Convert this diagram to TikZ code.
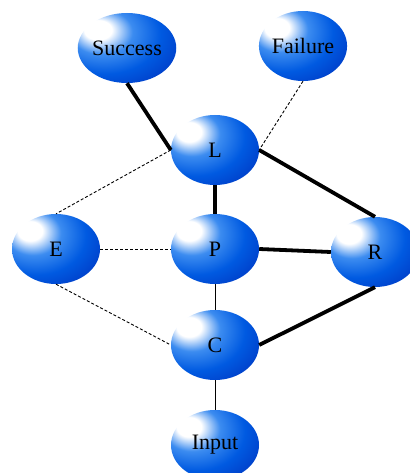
\documentclass[tikz,border=0pt]{standalone}
\usepackage{fontspec}
\setmainfont{Liberation Serif}
\usetikzlibrary{shapes.geometric}
\definecolor{ballmid}{RGB}{60,140,240}
\definecolor{ballblue}{RGB}{0,90,225}
\definecolor{balldeep}{RGB}{0,50,190}
\definecolor{balldark}{RGB}{0,15,135}
\pgfdeclareradialshading{blueball}{\pgfpoint{-16bp}{14bp}}{%
 color(0bp)=(white); color(7bp)=(white); color(16bp)=(ballmid);
 color(28bp)=(ballblue); color(44bp)=(balldeep); color(62bp)=(balldark);
 color(90bp)=(balldark)}
\tikzset{
  ball/.style={ellipse, shading=blueball, draw=none, minimum width=88pt,
    minimum height=70pt, inner sep=0pt, font=\fontsize{22}{26}\selectfont},
  heavy/.style={line width=3.8pt},
  light/.style={line width=0.9pt},
  dashline/.style={line width=0.9pt, dash pattern=on 3pt off 2pt}
}
\begin{document}
\begin{tikzpicture}[x=1pt,y=-1pt]
\useasboundingbox (0,0) rectangle (409,473);
\node[ball] (S) at (127,48) {Success};
\node[ball] (F) at (303,46) {Failure};
\node[ball] (L) at (215,150) {L};
\node[ball] (E) at (56,249) {E};
\node[ball] (P) at (215,249) {P};
\node[ball] (R) at (375,252) {R};
\node[ball] (C) at (215,345) {C};
\node[ball] (I) at (215,445) {Input};
\draw[heavy] (S.south) -- (L.west);
\draw[dashline] (F.south) -- (L.east);
\draw[dashline] (L.west) -- (E.north);
\draw[heavy] (L.south) -- (P.north);
\draw[heavy] (L.east) -- (R.north);
\draw[dashline] (E.east) -- (P.west);
\draw[heavy] (P.east) -- (R.west);
\draw[light] (P.south) -- (C.north);
\draw[dashline] (E.south) -- (C.west);
\draw[heavy] (R.south) -- (C.east);
\draw[light] (C.south) -- (I.north);
\end{tikzpicture}
\end{document}
